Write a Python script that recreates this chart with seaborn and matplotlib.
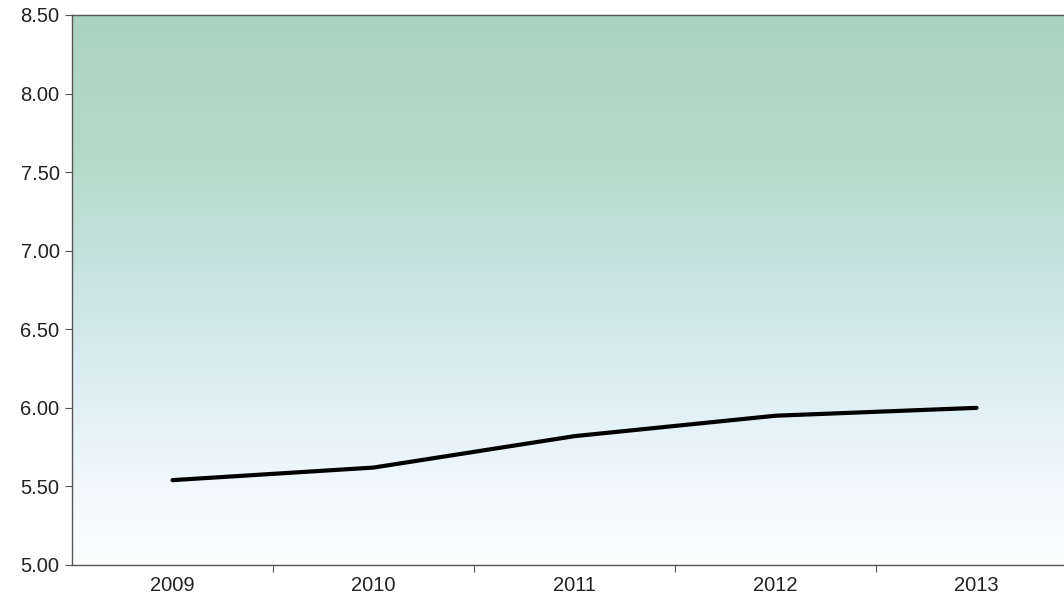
import numpy as np
import pandas as pd
import seaborn as sns
import matplotlib.pyplot as plt
from matplotlib.colors import LinearSegmentedColormap
from matplotlib.ticker import FixedLocator

years = ["2009", "2010", "2011", "2012", "2013"]
values = [5.54, 5.62, 5.82, 5.95, 6.00]
y_ticks = [5.00, 5.50, 6.00, 6.50, 7.00, 7.50, 8.00, 8.50]

df = pd.DataFrame({"year": years, "value": values})

sns.set_style("white")
plt.rcParams["font.family"] = ["Liberation Sans", "DejaVu Sans"]

fig = plt.figure(figsize=(10.64, 5.99), dpi=100)
# axes run past the right edge of the picture, as in the reference
ax = fig.add_axes([72 / 1064, 34 / 599, 1005 / 1064, 550 / 599])

# background gradient: white at the bottom, pale blue, then green at the top
grad = LinearSegmentedColormap.from_list(
    "bg",
    [(0.0, "#fdfefe"), (0.15, "#f0f8fb"), (0.35, "#daedf3"),
     (0.55, "#c6e2de"), (0.75, "#b6d9c9"), (1.0, "#aad4bd")],
)
ax.imshow(np.linspace(0, 1, 256).reshape(-1, 1), cmap=grad, origin="lower",
          extent=[-0.5, 4.5, 5.0, 8.5], aspect="auto", zorder=0)

sns.lineplot(data=df, x="year", y="value", ax=ax, color="black",
             linewidth=3.0, zorder=3, sort=False, solid_capstyle="round")

ax.set_xlim(-0.5, 4.5)
ax.set_ylim(5.0, 8.5)
ax.set_yticks(y_ticks)
ax.set_yticklabels([f"{v:.2f}" for v in y_ticks])
ax.set_xticks(range(len(years)))
ax.set_xticklabels(years)
ax.xaxis.set_minor_locator(FixedLocator([0.5, 1.5, 2.5, 3.5]))
ax.tick_params(axis="x", which="major", length=0, pad=8, labelsize=14.5, colors="#222222")
ax.tick_params(axis="x", which="minor", length=5, width=0.8, color="#555555", direction="out", bottom=True)
ax.tick_params(axis="y", length=5, width=0.8, color="#555555", direction="out", left=True,
               labelsize=14.5, labelcolor="#222222", pad=4)
ax.set_xlabel("")
ax.set_ylabel("")

for side in ["left", "bottom", "top"]:
    ax.spines[side].set_color("#555555")
    ax.spines[side].set_linewidth(1.0)
ax.spines["right"].set_visible(False)

fig.savefig("out.png", dpi=100)
